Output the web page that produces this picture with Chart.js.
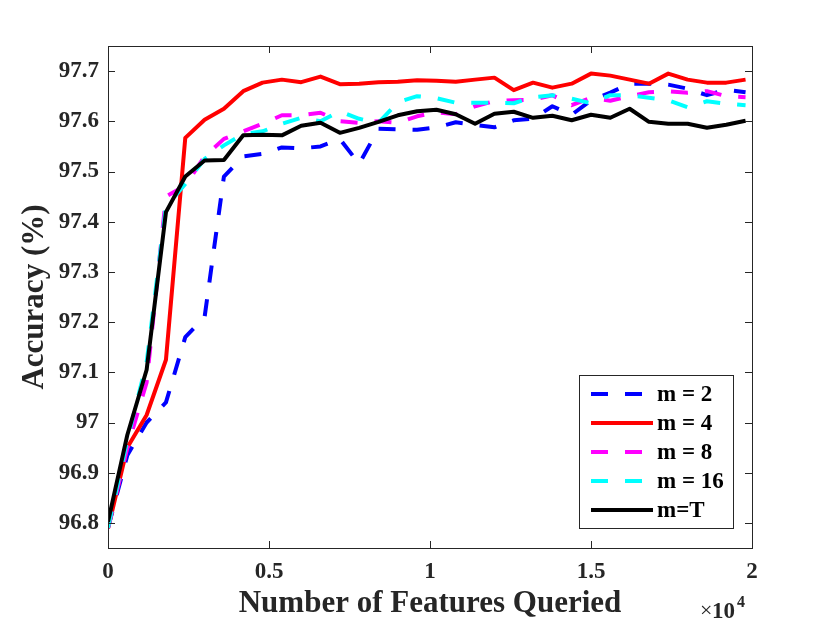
<!DOCTYPE html>
<html>
<head>
    <meta charset="utf-8">
    <title>Accuracy vs Number of Features Queried</title>
    <script src="https://cdn.jsdelivr.net/npm/chart.js"></script>
    <style>
        html, body { margin: 0; padding: 0; background: #fff; }
        canvas { display: block; }
    </style>
</head>
<body>
    <canvas id="acc-chart" width="830" height="632"></canvas>

    <script>
        // x: number of features queried
        const features = [0, 600, 1200, 1800, 2400, 3000, 3600, 4200, 4800, 5400, 6000, 6600,
                          7200, 7800, 8400, 9000, 9600, 10200, 10800, 11400, 12000, 12600, 13200,
                          13800, 14400, 15000, 15600, 16200, 16800, 17400, 18000, 18600, 19200, 19800];

        // accuracy (%)
        const accM2 = [96.79, 96.935, 97.0, 97.04, 97.17, 97.21, 97.49, 97.53, 97.535, 97.548, 97.546, 97.55,
                       97.565, 97.515, 97.585, 97.584, 97.583, 97.588, 97.598, 97.593, 97.588, 97.602, 97.605,
                       97.63, 97.613, 97.642, 97.657, 97.675, 97.675, 97.673, 97.665, 97.652, 97.663, 97.658];
        const accM4 = [96.789, 96.95, 97.015, 97.125, 97.567, 97.603, 97.625, 97.66, 97.677, 97.683, 97.678, 97.689,
                       97.674, 97.675, 97.678, 97.679, 97.682, 97.681, 97.679, 97.683, 97.687, 97.662, 97.677,
                       97.667, 97.675, 97.695, 97.691, 97.683, 97.675, 97.695, 97.683, 97.677, 97.677, 97.683];
        const accM8 = [96.79, 96.95, 97.08, 97.45, 97.472, 97.53, 97.565, 97.58, 97.595, 97.612, 97.612, 97.617,
                       97.6, 97.597, 97.6, 97.597, 97.61, 97.618, 97.614, 97.63, 97.64, 97.642, 97.643,
                       97.652, 97.632, 97.647, 97.641, 97.65, 97.658, 97.66, 97.657, 97.66, 97.65, 97.648];
        const accM16 = [96.79, 96.965, 97.12, 97.43, 97.475, 97.525, 97.552, 97.575, 97.58, 97.595, 97.607, 97.6,
                        97.62, 97.605, 97.597, 97.638, 97.65, 97.646, 97.637, 97.637, 97.637, 97.636, 97.648,
                        97.652, 97.645, 97.636, 97.652, 97.652, 97.647, 97.642, 97.628, 97.64, 97.635, 97.632];
        const accMT = [96.802, 96.975, 97.105, 97.419, 97.49, 97.522, 97.523, 97.572, 97.573, 97.572, 97.591, 97.597,
                       97.577, 97.587, 97.599, 97.612, 97.62, 97.623, 97.614, 97.595, 97.615, 97.619, 97.607,
                       97.611, 97.602, 97.613, 97.607, 97.625, 97.599, 97.595, 97.595, 97.587, 97.593, 97.601];

        const seriesLabels = ['m = 2', 'm = 4', 'm = 8', 'm = 16', 'm=T'];
        const xTicks = [0, 5000, 10000, 15000, 20000];
        const yTicks = [96.8, 96.9, 97.0, 97.1, 97.2, 97.3, 97.4, 97.5, 97.6, 97.7];

        const FONT = '"Liberation Serif", "Times New Roman", Times, serif';
        const INK = '#262626';

        function toPoints(vals) {
            return features.map((f, i) => ({ x: f, y: vals[i] }));
        }

        function lineSet(label, vals, color, dash, order) {
            return {
                label: label,
                data: toPoints(vals),
                borderColor: color,
                backgroundColor: color,
                borderWidth: 4,
                borderDash: dash,
                borderJoinStyle: 'round',
                pointRadius: 0,
                tension: 0,
                fill: false,
                order: order
            };
        }

        // inward tick marks on all four sides + box, like MATLAB axes
        const boxAxes = {
            id: 'boxAxes',
            afterDatasetsDraw(chart) {
                const { ctx, chartArea: a, scales } = chart;
                const len = 7;
                ctx.save();
                ctx.strokeStyle = INK;
                ctx.lineWidth = 1;
                ctx.beginPath();
                xTicks.forEach(v => {
                    const px = Math.round(scales.x.getPixelForValue(v)) + 0.5;
                    ctx.moveTo(px, a.bottom); ctx.lineTo(px, a.bottom - len);
                    ctx.moveTo(px, a.top); ctx.lineTo(px, a.top + len);
                });
                yTicks.forEach(v => {
                    const py = Math.round(scales.y.getPixelForValue(v)) + 0.5;
                    ctx.moveTo(a.left, py); ctx.lineTo(a.left + len, py);
                    ctx.moveTo(a.right, py); ctx.lineTo(a.right - len, py);
                });
                ctx.stroke();
                ctx.strokeRect(Math.round(a.left) + 0.5, Math.round(a.top) + 0.5,
                               Math.round(a.right - a.left), Math.round(a.bottom - a.top));

                // exponent label under the x axis
                const xr = a.right;
                ctx.fillStyle = INK;
                ctx.textBaseline = 'alphabetic';
                ctx.textAlign = 'left';
                ctx.font = '22px ' + FONT;
                ctx.fillText('\u00d7', xr - 52, 617);
                ctx.font = 'bold 23px ' + FONT;
                ctx.fillText('10', xr - 40, 618);
                ctx.font = 'bold 16px ' + FONT;
                ctx.fillText('4', xr - 15, 607);
                ctx.restore();
            }
        };

        // legend box inside the lower right of the plot
        const insideLegend = {
            id: 'insideLegend',
            afterDraw(chart) {
                const { ctx, chartArea: a } = chart;
                const w = 154, h = 153;
                const x0 = a.right - 19 - w;
                const y0 = a.bottom - 20 - h;
                ctx.save();
                ctx.fillStyle = '#fff';
                ctx.fillRect(x0, y0, w, h);
                ctx.strokeStyle = INK;
                ctx.lineWidth = 1;
                ctx.strokeRect(Math.round(x0) + 0.5, Math.round(y0) + 0.5, w, h);
                ctx.font = 'bold 23px ' + FONT;
                ctx.textBaseline = 'middle';
                ctx.textAlign = 'left';
                chart.data.datasets.forEach((ds, i) => {
                    const y = y0 + 19 + i * 29;
                    ctx.beginPath();
                    ctx.strokeStyle = ds.borderColor;
                    ctx.lineWidth = ds.borderWidth;
                    ctx.setLineDash(ds.borderDash);
                    ctx.moveTo(x0 + 12, y);
                    ctx.lineTo(x0 + 74, y);
                    ctx.stroke();
                    ctx.setLineDash([]);
                    ctx.fillStyle = '#000';
                    ctx.fillText(ds.label, x0 + 78, y + 1);
                });
                ctx.restore();
            }
        };

        const ctx = document.getElementById('acc-chart').getContext('2d');
        const accChart = new Chart(ctx, {
            type: 'line',
            data: {
                datasets: [
                    lineSet(seriesLabels[0], accM2, '#0000ff', [17, 17], 4),
                    lineSet(seriesLabels[1], accM4, '#ff0000', [], 3),
                    lineSet(seriesLabels[2], accM8, '#ff00ff', [17, 17], 2),
                    lineSet(seriesLabels[3], accM16, '#00ffff', [17, 17], 1),
                    lineSet(seriesLabels[4], accMT, '#000000', [], 0)
                ]
            },
            options: {
                responsive: false,
                animation: false,
                devicePixelRatio: 1,
                layout: { padding: { top: 46, right: 78, left: 0, bottom: 0 } },
                plugins: {
                    legend: { display: false },
                    tooltip: { enabled: false }
                },
                scales: {
                    x: {
                        type: 'linear',
                        min: 0,
                        max: 20000,
                        afterFit(scale) { scale.height = 84; },
                        afterBuildTicks(scale) { scale.ticks = xTicks.map(v => ({ value: v })); },
                        grid: { display: false, drawTicks: false },
                        border: { display: false },
                        ticks: {
                            padding: 10,
                            color: INK,
                            maxRotation: 0,
                            autoSkip: false,
                            font: { family: FONT, size: 23, weight: 'bold' },
                            callback: v => String(v / 10000)
                        },
                        title: {
                            display: true,
                            text: 'Number of Features Queried',
                            color: INK,
                            padding: { top: 0, bottom: 9 },
                            font: { family: FONT, size: 31, weight: 'bold' }
                        }
                    },
                    y: {
                        type: 'linear',
                        min: 96.75,
                        max: 97.75,
                        afterFit(scale) { scale.width = 108; },
                        afterBuildTicks(scale) { scale.ticks = yTicks.map(v => ({ value: v })); },
                        grid: { display: false, drawTicks: false },
                        border: { display: false },
                        ticks: {
                            padding: 9,
                            color: INK,
                            autoSkip: false,
                            font: { family: FONT, size: 23, weight: 'bold' },
                            callback: v => String(Number(v.toFixed(1)))
                        },
                        title: {
                            display: true,
                            text: 'Accuracy (%)',
                            color: INK,
                            padding: { top: 16, bottom: 0 },
                            font: { family: FONT, size: 31, weight: 'bold' }
                        }
                    }
                }
            },
            plugins: [boxAxes, insideLegend]
        });
    </script>
</body>
</html>
